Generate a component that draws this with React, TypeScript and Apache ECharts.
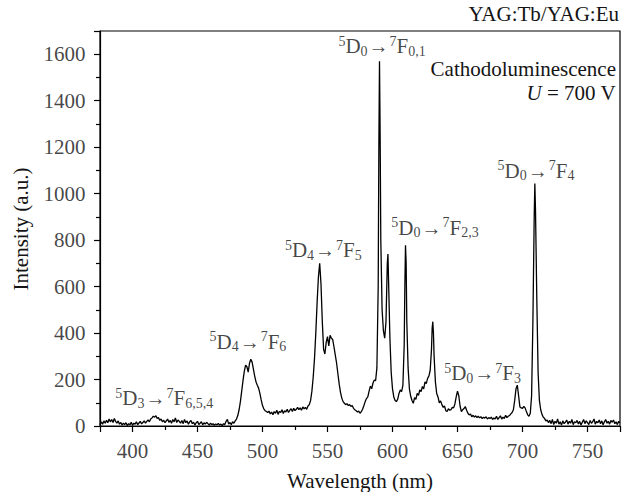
import React, { useEffect, useRef } from 'react';
import * as echarts from 'echarts';

const FONT = 'Liberation Serif, Times New Roman, serif';
const INK = '#141414';

// Spectrum: [wavelength (nm), intensity (a.u.)]
const tbBlueRegion: [number, number][] = [
  [375, 5], [376, 18], [377, 8], [378, 22], [379, 12], [380, 25], [381, 14], [382, 30], [383, 18], [384, 28],
  [385, 15], [386, 32], [387, 20], [388, 12], [389, 22], [390, 8], [391, 15], [392, 4], [393, 12], [394, 6],
  [395, 14], [396, 2], [397, 10], [398, 5], [399, 16], [400, 3], [401, 12], [402, 8], [403, 18], [404, 6],
  [405, 13], [406, 20], [407, 9], [408, 15], [409, 22], [410, 12], [411, 20], [412, 26], [413, 18], [414, 30],
  [415, 35], [416, 42], [417, 38], [418, 44], [419, 32], [420, 36], [421, 24], [422, 30], [423, 18], [424, 25],
  [425, 14], [426, 22], [427, 30], [428, 16], [429, 24], [430, 12], [431, 28], [432, 18], [433, 35], [434, 15],
  [435, 26], [436, 20], [437, 12], [438, 24], [439, 10], [440, 28], [441, 14], [442, 22], [443, 8], [444, 18],
  [445, 24], [446, 10], [447, 16], [448, 4], [449, 14], [450, 20], [451, 6], [452, 12], [453, 18], [454, 5],
  [455, 14], [456, 8], [457, 16], [458, 10], [459, 4], [460, 12], [461, 6], [462, 10], [463, 3], [464, 9],
  [465, 5], [466, 11], [467, 4], [468, 8], [469, 2], [470, 10], [471, 6], [472, 20], [473, 28], [474, 8],
  [475, 15], [476, 6], [477, 18], [478, 12], [479, 22], [480, 30],
  [481, 45], [482, 70], [483, 105], [484, 150], [485, 195], [486, 235], [487, 262], [488, 255], [489, 232], [490, 270],
  [491, 287], [492, 275], [493, 245], [494, 215], [495, 190], [496, 175], [497, 163], [498, 140], [499, 112], [500, 88],
  [501, 74], [502, 66], [503, 62], [504, 58],
];

const tbGreenRegion: [number, number][] = [
  [505, 64], [506, 52], [507, 60], [508, 48], [509, 62], [510, 55], [511, 68], [512, 50], [513, 63], [514, 58],
  [515, 70], [516, 54], [517, 66], [518, 60], [519, 72], [520, 58], [521, 68], [522, 74], [523, 62], [524, 76],
  [525, 66], [526, 72], [527, 80], [528, 70], [529, 78], [530, 68], [531, 82], [532, 74], [533, 80], [534, 72],
  [535, 86], [536, 92], [537, 110], [538, 150], [539, 210], [540, 290], [541, 400], [542, 530], [543, 640], [544, 700],
  [545, 610], [546, 450], [547, 330], [548, 310], [549, 360], [550, 385], [551, 345], [552, 390], [553, 378], [554, 372],
  [555, 340], [556, 305], [557, 270], [558, 225], [559, 180], [560, 145], [561, 120], [562, 105], [563, 98], [564, 92],
  [565, 96], [566, 88], [567, 92], [568, 84], [569, 88], [570, 76], [571, 70], [572, 66], [573, 60], [574, 64],
  [575, 55],
];

const euOrangeRegion: [number, number][] = [
  [576, 62], [577, 72], [578, 88], [579, 105], [580, 118], [581, 125], [582, 150], [583, 172], [584, 160], [585, 185],
  [586, 198], [587, 195], [588, 250], [589, 600], [589.5, 1200], [590, 1570], [590.5, 1250], [591, 800], [592, 500], [593, 410],
  [594, 378], [595, 450], [596, 700], [596.5, 740], [597, 620], [598, 380], [599, 230], [600, 160], [601, 125], [602, 110],
  [603, 105], [604, 115], [605, 140], [606, 155], [607, 148], [608, 175], [609, 350], [609.5, 600], [610, 778], [610.5, 700],
  [611, 450], [612, 250], [613, 160], [614, 128], [615, 110], [616, 98], [617, 122], [618, 115], [619, 140], [620, 132],
  [621, 155], [622, 148], [623, 170], [624, 160], [625, 190], [626, 182], [627, 205], [628, 215], [629, 240], [630, 330],
  [630.5, 420], [631, 449], [631.5, 400], [632, 300], [633, 190], [634, 140], [635, 125], [636, 100], [637, 108], [638, 92],
  [639, 80], [640, 86],
];

const euRedRegion: [number, number][] = [
  [641, 66], [642, 62], [643, 74], [644, 68], [645, 70], [646, 80], [647, 78], [648, 95], [649, 125], [650, 150],
  [651, 130], [652, 85], [653, 62], [654, 70], [655, 75], [656, 84], [657, 68], [658, 55], [659, 48], [660, 52],
  [661, 40], [662, 46], [663, 38], [664, 44], [665, 36], [666, 42], [667, 35], [668, 40], [669, 32], [670, 38],
  [671, 34], [672, 40], [673, 30], [674, 36], [675, 32], [676, 38], [677, 28], [678, 35], [679, 30], [680, 42],
  [681, 28], [682, 36], [683, 44], [684, 30], [685, 38], [686, 32], [687, 46], [688, 36], [689, 42], [690, 45],
  [691, 52], [692, 58], [693, 70], [694, 110], [695, 160], [696, 176], [697, 130], [698, 82], [699, 78], [700, 76],
  [701, 84], [702, 78], [703, 62], [704, 48], [705, 42], [706, 55], [707, 130], [708, 450], [709, 900], [709.5, 1044],
  [710, 930], [711, 550], [712, 230], [713, 110], [714, 70], [715, 50], [716, 38], [717, 32], [718, 22], [719, 26],
  [720, 14], [721, 24], [722, 10], [723, 28], [724, 6], [725, 20], [726, 12], [727, 30], [728, 8], [729, 18],
  [730, 4], [731, 22], [732, 10], [733, 16], [734, 26], [735, 8], [736, 20], [737, 12], [738, 28], [739, 6],
  [740, 18], [741, 14], [742, 24], [743, 9], [744, 20], [745, 4], [746, 16], [747, 28], [748, 10], [749, 22],
  [750, 14], [751, 6], [752, 24], [753, 12], [754, 18], [755, 30], [756, 8], [757, 20], [758, 14], [759, 26],
  [760, 10], [761, 22], [762, 5], [763, 18], [764, 28], [765, 12], [766, 20], [767, 8], [768, 24], [769, 16],
  [770, 26], [771, 10], [772, 18], [773, 6], [774, 20], [775, 14],
];

// Tick labels
const xTickLabels = [400, 450, 500, 550, 600, 650, 700, 750];
const yTickLabels = [0, 200, 400, 600, 800, 1000, 1200, 1400, 1600];

// Transition labels (rich text) anchored at [wavelength, intensity]
const transitionLabels = [
  '{sup|5}{n|D}{sub|0}{ar|→}{sup|7}{n|F}{sub|0,1}',
  '{sup|5}{n|D}{sub|0}{ar|→}{sup|7}{n|F}{sub|2,3}',
  '{sup|5}{n|D}{sub|0}{ar|→}{sup|7}{n|F}{sub|4}',
  '{sup|5}{n|D}{sub|4}{ar|→}{sup|7}{n|F}{sub|5}',
  '{sup|5}{n|D}{sub|4}{ar|→}{sup|7}{n|F}{sub|6}',
  '{sup|5}{n|D}{sub|3}{ar|→}{sup|7}{n|F}{sub|6,5,4}',
  '{sup|5}{n|D}{sub|0}{ar|→}{sup|7}{n|F}{sub|3}',
];
const transitionX = [592, 632.7, 710.4, 546.8, 488.8, 424.4, 669.3];
const transitionY = [1634, 854, 1098, 757, 362, 119, 227];

const xTitle = 'Wavelength (nm)';
const yTitle = 'Intensity (a.u.)';
const sampleTitle = 'YAG:Tb/YAG:Eu';
const modeTitle = 'Cathodoluminescence';

export default function App() {
  const ref = useRef<HTMLDivElement>(null);
  useEffect(() => {
    document.body.style.margin = '0';
    if (!ref.current) return;
    const chart = echarts.init(ref.current, undefined, { renderer: 'svg' });
    const spectrum = [...tbBlueRegion, ...tbGreenRegion, ...euOrangeRegion, ...euRedRegion];
    const tok = { fontFamily: FONT, color: INK, textBorderWidth: 0 };
    const rich = {
      n: { ...tok, fontSize: 21, lineHeight: 24 },
      ar: { ...tok, fontSize: 20, lineHeight: 24, padding: [0, 1, 0, 1] },
      sup: { ...tok, fontSize: 14, lineHeight: 14, verticalAlign: 'top' },
      sub: { ...tok, fontSize: 14, lineHeight: 14, verticalAlign: 'bottom' },
      i: { ...tok, fontSize: 21, fontStyle: 'italic' },
      r: { ...tok, fontSize: 21 },
      t: { ...tok, fontSize: 21 },
    };
    const hiddenDot = { type: 'scatter', silent: true, symbolSize: 1, clip: false, itemStyle: { color: 'rgba(0,0,0,0)' } };
    const axisLine = { show: true, lineStyle: { color: '#000', width: 1.2 } };
    const tick = { show: true, inside: false, length: 6, lineStyle: { color: '#000', width: 1.2 } };
    const minor = { show: true, splitNumber: 2, length: 4, lineStyle: { color: '#000', width: 1.2 } };
    chart.setOption({
      animation: false,
      textStyle: { fontFamily: FONT },
      grid: {
        left: 100, right: 2, top: 31, bottom: 66, show: true, borderColor: '#000', borderWidth: 1.2,
        containLabel: false, outerBoundsMode: 'none',
      },
      xAxis: {
        type: 'value', min: 375, max: 775, splitNumber: 8,
        axisLine, axisTick: tick, minorTick: minor,
        splitLine: { show: false }, axisLabel: { show: false },
      },
      yAxis: {
        type: 'value', min: 0, max: 1700, splitNumber: 8,
        axisLine, axisTick: tick, minorTick: minor,
        splitLine: { show: false }, axisLabel: { show: false },
      },
      series: [
        {
          type: 'line', data: spectrum, showSymbol: false, symbol: 'none',
          lineStyle: { color: '#000', width: 1.3 }, silent: true,
        },
        {
          ...hiddenDot,
          data: transitionLabels.map((t, k) => ({ value: [transitionX[k], transitionY[k]], label: { formatter: t } })),
          label: { show: true, position: 'inside', color: INK, textBorderWidth: 0, fontFamily: FONT, rich },
        },
        {
          ...hiddenDot,
          data: xTickLabels.map((v) => [v, 0]),
          label: {
            show: true, position: 'bottom', distance: 14, color: INK, textBorderWidth: 0, rich,
            formatter: (p: any) => `{t|${p.value[0]}}`,
          },
        },
        {
          ...hiddenDot,
          data: yTickLabels.map((v) => [375, v]),
          label: {
            show: true, position: 'left', distance: 14, color: INK, textBorderWidth: 0, rich,
            formatter: (p: any) => `{t|${p.value[1]}}`,
          },
        },
      ],
      graphic: [
        {
          type: 'text', right: 3, top: 3,
          style: { text: sampleTitle, font: `21px ${FONT}`, fill: INK },
        },
        {
          type: 'text', right: 6, top: 58,
          style: { text: modeTitle, font: `21px ${FONT}`, fill: INK },
        },
        {
          type: 'text', right: 6, top: 82,
          style: { text: '{i|U}{r| = 700 V}', rich, font: `21px ${FONT}`, fill: INK },
        },
        {
          type: 'text', x: 360, y: 481,
          style: { text: xTitle, font: `21px ${FONT}`, fill: INK, align: 'center', verticalAlign: 'middle' },
        },
        {
          type: 'text', x: 21, y: 229, rotation: Math.PI / 2,
          style: { text: yTitle, font: `21px ${FONT}`, fill: INK, align: 'center', verticalAlign: 'middle' },
        },
      ],
    });
    return () => chart.dispose();
  }, []);
  return <div ref={ref} style={{ width: 622, height: 492 }} />;
}
